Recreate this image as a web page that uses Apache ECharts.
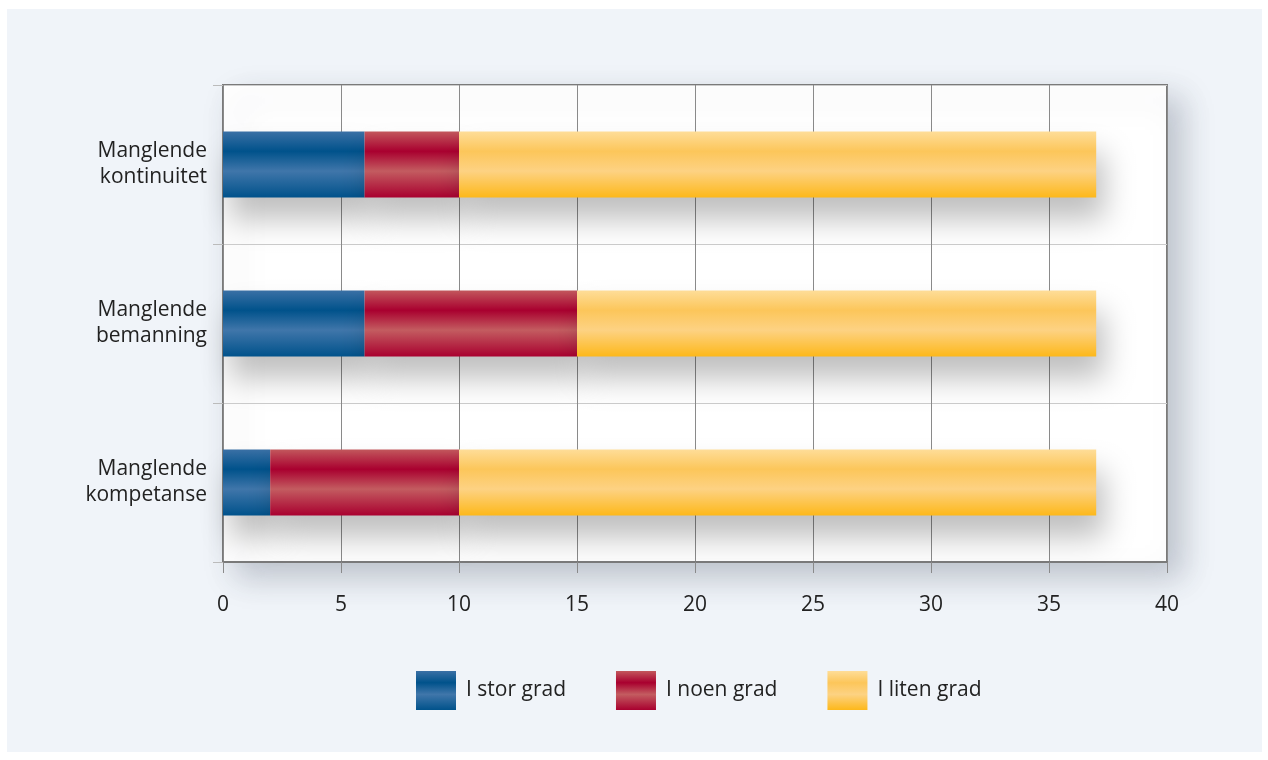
<!DOCTYPE html>
<html>
<head>
<meta charset="utf-8">
<script src="https://cdn.jsdelivr.net/npm/echarts@6/dist/echarts.min.js"></script>
<style>
  html, body { margin: 0; padding: 0; background: #ffffff; }
  #main { position: absolute; left: 7px; top: 9px; width: 1255px; height: 743px; }
</style>
</head>
<body>
<div id="main"></div>
<script>
// kategorier (nederst til øverst)
var categories = ['Manglende\nkompetanse', 'Manglende\nbemanning', 'Manglende\nkontinuitet']
var storGrad = [2, 6, 6]
var noenGrad = [8, 9, 4]
var litenGrad = [27, 22, 27]
var xTicks = [0, 5, 10, 15, 20, 25, 30, 35, 40]

var font = '"Open Sans", "Noto Sans", sans-serif'

function grad(c1, c2, c3, c4) {
  return new echarts.graphic.LinearGradient(0, 0, 0, 1, [
    { offset: 0, color: c1 },
    { offset: 0.3, color: c2 },
    { offset: 0.6, color: c3 },
    { offset: 1, color: c4 }
  ])
}

var colors = {
  stor: grad('#3a70a5', '#00528b', '#4076aa', '#00528b'),
  noen: grad('#c2575c', '#a9002f', '#c35c60', '#a9002f'),
  liten: grad('#fedd98', '#fcc65a', '#fdd283', '#fdb81a')
}

function bar(name, data, color) {
  return {
    name: name,
    type: 'bar',
    stack: 'total',
    barWidth: '41.5%',
    data: data,
    itemStyle: {
      color: color,
      shadowColor: 'rgba(0,0,0,0.25)',
      shadowBlur: 30,
      shadowOffsetX: 8,
      shadowOffsetY: 22
    }
  }
}

var chart = echarts.init(document.getElementById('main'))
var option = {
  backgroundColor: '#f0f4f9',
  textStyle: { fontFamily: font },
  grid: {
    left: 216,
    top: 76,
    width: 944,
    height: 477,
    show: true,
    backgroundColor: '#ffffff',
    borderColor: '#7a7a7a',
    borderWidth: 2,
    shadowColor: 'rgba(40,50,70,0.25)',
    shadowBlur: 30,
    shadowOffsetX: 14,
    shadowOffsetY: 14
  },
  legend: {
    bottom: 37,
    left: 404,
    itemWidth: 40,
    itemHeight: 39,
    itemGap: 50,
    icon: 'rect',
    textStyle: { fontSize: 21, color: '#222', fontFamily: font, padding: [0, 0, 0, 5] },
    data: ['I stor grad', 'I noen grad', 'I liten grad']
  },
  xAxis: {
    type: 'value',
    min: 0,
    max: 40,
    interval: 5,
    axisLine: { show: true, lineStyle: { color: '#7a7a7a', width: 2 } },
    axisTick: { show: true, length: 11, lineStyle: { color: '#8a8a8a' } },
    axisLabel: {
      margin: 33,
      fontSize: 21,
      color: '#222',
      formatter: function (v) { return xTicks.indexOf(v) >= 0 ? String(v) : '' }
    },
    splitLine: { show: true, lineStyle: { color: '#8a8a8a', width: 1 } }
  },
  yAxis: {
    type: 'category',
    data: categories,
    axisLine: { show: true, lineStyle: { color: '#8a8a8a', width: 1 } },
    axisTick: { show: true, length: 10, lineStyle: { color: '#bbbbbb' } },
    axisLabel: {
      margin: 16,
      fontSize: 21,
      lineHeight: 26,
      color: '#222',
      align: 'right',
      padding: [4, 0, 0, 0]
    },
    splitLine: { show: true, lineStyle: { color: '#cccccc', width: 1 } }
  },
  series: [
    bar('I stor grad', storGrad, colors.stor),
    bar('I noen grad', noenGrad, colors.noen),
    bar('I liten grad', litenGrad, colors.liten)
  ]
}
chart.setOption(option)
</script>
</body>
</html>
